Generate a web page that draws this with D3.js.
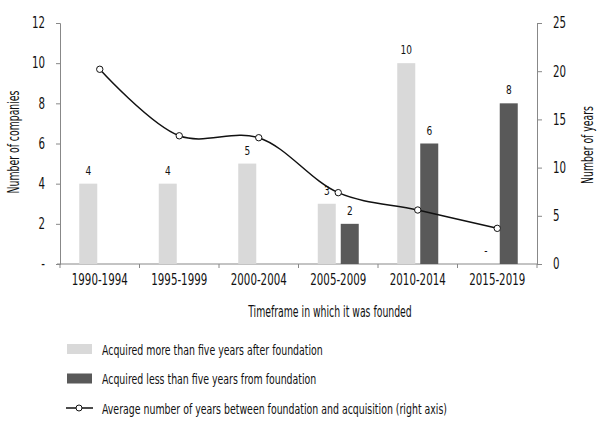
<html>
  <head>
    <script src="https://cdnjs.cloudflare.com/ajax/libs/d3/7.8.5/d3.min.js"></script>
  </head>
  <body style="margin:0;background:#fff;">
    <style>
      svg text {font-family:"DejaVu Sans Condensed","Liberation Sans Narrow",sans-serif; fill:#111;}
      .axis path, .axis line {stroke:#888;}
    </style>
    <div id="chart"></div>
    <script>

// D A T A

      let periods = ['1990-1994','1995-1999','2000-2004','2005-2009','2010-2014','2015-2019']
      let moreThanFive = [4, 4, 5, 3, 10, 0]
      let lessThanFive = [null, null, null, 2, 6, 8]
      let avgYears = [20.2, 13.3, 13.1, 7.4, 5.6, 3.7]
      let leftTicks = [0, 2, 4, 6, 8, 10, 12]
      let rightTicks = [0, 5, 10, 15, 20, 25]
      let seriesNames = ['Acquired more than five years after foundation',
                         'Acquired less than five years from foundation',
                         'Average number of years between foundation and acquisition (right axis)']


// L A Y O U T

      let width = 605, height = 425
      let plotLeft = 60, plotRight = 537, plotTop = 23, plotBottom = 264
      let light = '#d9d9d9', dark = '#595959'

      let svg = d3.select('#chart').append('svg')
        .attr('width', width)
        .attr('height', height)

      let x0 = d3.scaleBand().domain(periods).range([plotLeft, plotRight])
      let bw = x0.bandwidth()
      let x1 = d3.scaleBand().domain(['more','less'])
        .range([bw/2 - 20.5, bw/2 + 20.5])
        .paddingInner(0.217)

      let yL = d3.scaleLinear().domain([0, 12]).range([plotBottom, plotTop])
      let yR = d3.scaleLinear().domain([0, 25]).range([plotBottom, plotTop])

      // the reference face is a narrow one, squeeze the condensed face to match
      function squeeze(sel, k) {
        sel.each(function() {
          let w = this.getComputedTextLength()
          this.setAttribute('textLength', w*k)
          this.setAttribute('lengthAdjust', 'spacingAndGlyphs')
        })
      }


// A X E S

      let ya = svg.append('g')
        .attr('class','axis')
        .attr('transform', `translate(${plotLeft},0)`)
        .call(d3.axisLeft(yL).tickValues(leftTicks).tickSize(4).tickPadding(11)
          .tickFormat(d => d == 0 ? '-' : d))
      ya.selectAll('text').style('font-size','15px').call(squeeze, 0.76)

      let yb = svg.append('g')
        .attr('class','axis')
        .attr('transform', `translate(${plotRight},0)`)
        .call(d3.axisRight(yR).tickValues(rightTicks).tickSize(5).tickPadding(11))
      yb.selectAll('text').style('font-size','15px').call(squeeze, 0.76)

      let xa = svg.append('g')
        .attr('class','axis')
        .attr('transform', `translate(0,${plotBottom})`)
        .call(d3.axisBottom(x0).tickSize(0).tickPadding(10))
      xa.select('.domain').remove()
      xa.selectAll('text').style('font-size','15px').call(squeeze, 0.76)
      xa.append('line')
        .attr('x1', plotLeft - 3).attr('x2', plotRight)
        .attr('stroke','#888')
      xa.selectAll('.sep')
        .data(periods.concat(['end']))
        .enter().append('line')
          .attr('class','sep')
          .attr('x1', (d,i) => i < periods.length ? x0(d) : plotRight)
          .attr('x2', (d,i) => i < periods.length ? x0(d) : plotRight)
          .attr('y1', 0).attr('y2', 4)
          .attr('stroke','#888')

      let titles = svg.append('g')
      titles.append('text')
        .attr('x', 330).attr('y', 317)
        .attr('text-anchor','middle')
        .text('Timeframe in which it was founded')
      titles.append('text')
        .attr('transform','translate(19,142) rotate(-90)')
        .attr('text-anchor','middle')
        .text('Number of companies')
      titles.append('text')
        .attr('transform','translate(593,145) rotate(-90)')
        .attr('text-anchor','middle')
        .text('Number of years')
      titles.selectAll('text').style('font-size','15px').call(squeeze, 0.69)


// B A R S

      let groups = svg.append('g')
        .selectAll('g')
        .data(periods)
        .enter().append('g')
          .attr('transform', d => `translate(${x0(d)},0)`)

      function barset(key, values, color) {
        let val = d => values[periods.indexOf(d)]
        let has = groups.filter(d => val(d) !== null)
        has.append('rect')
            .attr('x', x1(key))
            .attr('width', x1.bandwidth())
            .attr('y', d => yL(val(d)))
            .attr('height', d => plotBottom - yL(val(d)))
            .attr('fill', color)
        has.append('text')
            .attr('x', x1(key) + x1.bandwidth()/2)
            .attr('y', d => yL(val(d)) - 9)
            .attr('text-anchor','middle')
            .style('font-size','12.5px')
            .text(d => val(d) || '-')
            .call(squeeze, 0.8)
      }
      barset('more', moreThanFive, light)
      barset('less', lessThanFive, dark)


// L I N E

      let line = d3.line()
        .x((d,i) => x0(periods[i]) + bw/2)
        .y(d => yR(d))
        .curve(d3.curveCatmullRom.alpha(0.5))

      svg.append('path')
        .attr('d', line(avgYears))
        .attr('fill','none')
        .attr('stroke','#111')
        .attr('stroke-width',1.5)

      svg.append('g')
        .selectAll('circle')
        .data(avgYears)
        .enter().append('circle')
          .attr('cx', (d,i) => x0(periods[i]) + bw/2)
          .attr('cy', d => yR(d))
          .attr('r', 3.2)
          .attr('fill','#fff')
          .attr('stroke','#111')
          .attr('stroke-width',1)


// L E G E N D

      let legend = svg.append('g')
        .selectAll('g')
        .data(seriesNames)
        .enter().append('g')
          .attr('transform', (d,i) => `translate(0,${349 + i*29.5})`)

      legend.filter((d,i) => i < 2)
        .append('rect')
          .attr('x', 67).attr('y', -5)
          .attr('width', 25).attr('height', 10)
          .attr('fill', (d,i) => i == 0 ? light : dark)

      let lineItem = legend.filter((d,i) => i == 2)
      lineItem.append('line')
        .attr('x1', 66).attr('x2', 93)
        .attr('stroke','#111').attr('stroke-width',1.5)
      lineItem.append('circle')
        .attr('cx', 79).attr('r', 3)
        .attr('fill','#fff').attr('stroke','#111')

      legend.append('text')
        .attr('x', 102).attr('y', 5.5)
        .style('font-size','14.5px')
        .text(d => d)
        .call(squeeze, 0.72)

    </script>
  </body>
</html>
